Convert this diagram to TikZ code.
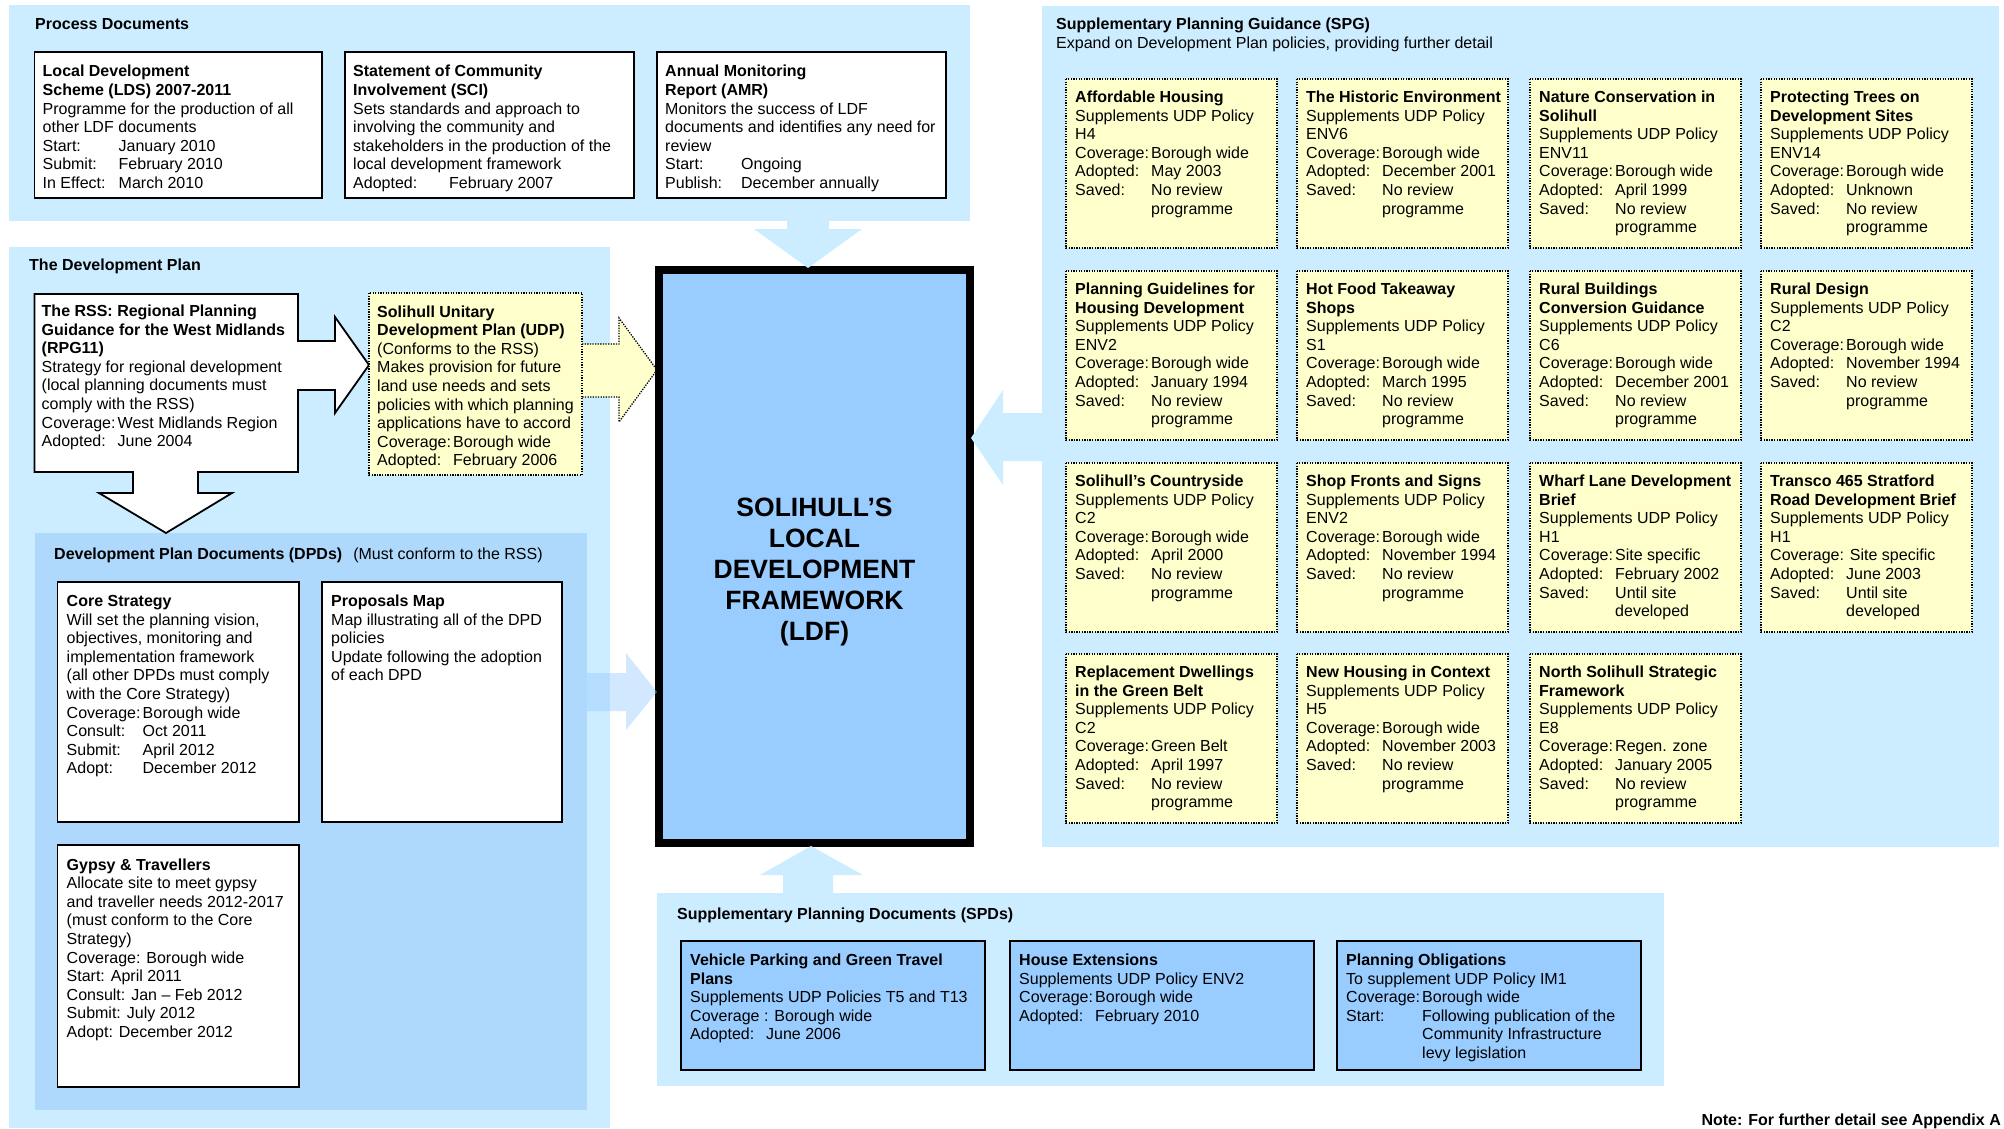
\documentclass[tikz,border=0pt]{standalone}
\usepackage{fontspec}
\setmainfont{Liberation Sans}
\usetikzlibrary{calc}
\definecolor{panel}{RGB}{204,236,255}
\definecolor{dpdpanel}{RGB}{175,217,252}
\definecolor{ldfblue}{RGB}{153,204,255}
\definecolor{ylw}{RGB}{255,255,204}
\newcommand\lbl[2][76pt]{\makebox[#1][l]{#2}}
\newcommand\indt{\hspace*{76pt}}
\newcommand\blk[1]{\begin{tabular}[t]{@{}l@{}}#1\end{tabular}}
\tikzset{
  txt/.style={anchor=base west, inner sep=0pt, font=\fontsize{16}{18.6}\selectfont},
  ttl/.style={anchor=base west, inner sep=0pt, font=\fontsize{16}{18.6}\selectfont\bfseries},
  wbox/.style={draw=black, line width=1.8pt, fill=white},
  ybox/.style={draw=black, line width=1.3pt, dash pattern=on 1.3pt off 1.3pt, fill=ylw},
  bbox/.style={draw=black, line width=1.8pt, fill=ldfblue},
  pnl/.style={fill=panel},
}
\newcommand\spgbox[4]{%
  \draw[ybox] (#2,#3) rectangle ++(211,169);
  \node[txt] (#1) at (#2+9,#3+23.5) {\blk{#4}};}
\begin{document}
\begin{tikzpicture}[x=1pt,y=-1pt]
\useasboundingbox (0,0) rectangle (2004,1129);
% ---------------- Process documents
\fill[pnl] (9,5) rectangle (970,221);
\node[ttl] (pdtitle) at (35,30) {Process Documents};
\draw[wbox] (34.5,52) rectangle (322,198);
\node[txt] (lds) at (42.5,77) {\blk{\textbf{Local Development}\\ \textbf{Scheme (LDS) 2007-2011}\\ Programme for the production of all\\ other LDF documents\\ \lbl{Start:}January 2010\\ \lbl{Submit:}February 2010\\ \lbl{In Effect:}March 2010}};
\draw[wbox] (345,52) rectangle (634,198);
\node[txt] (sci) at (353,77) {\blk{\textbf{Statement of Community}\\ \textbf{Involvement (SCI)}\\ Sets standards and approach to\\ involving the community and\\ stakeholders in the production of the\\ local development framework\\ \lbl[96pt]{Adopted:}February 2007}};
\draw[wbox] (657,52) rectangle (946,198);
\node[txt] (amr) at (665,77) {\blk{\textbf{Annual Monitoring}\\ \textbf{Report (AMR)}\\ Monitors the success of LDF\\ documents and identifies any need for\\ review\\ \lbl{Start:}Ongoing\\ \lbl{Publish:}December annually}};
% ---------------- Development plan
\fill[pnl] (9,247) rectangle (610,1128);
\node[ttl] (dptitle) at (29,270.5) {The Development Plan};
\fill[fill=dpdpanel] (34.5,533) rectangle (587,1110);
\node[txt] (dpdtitle) at (54,559.5) {\textbf{Development Plan Documents (DPDs)}\hspace{11pt}(Must conform to the RSS)};
% RSS shape
\draw[wbox, line join=miter] (34.5,294) -- (298,294) -- (298,341) -- (335,341) -- (335,317) -- (369,365) -- (335,413) -- (335,390) -- (298,390) -- (298,472) -- (198,472) -- (198,493) -- (232,493) -- (166,533) -- (99,493) -- (133,493) -- (133,472) -- (34.5,472) -- cycle;
\node[txt] (rss) at (41.5,316.5) {\blk{\textbf{The RSS: Regional Planning}\\ \textbf{Guidance for the West Midlands}\\ \textbf{(RPG11)}\\ Strategy for regional development\\ (local planning documents must\\ comply with the RSS)\\ \lbl{Coverage:}West Midlands Region\\ \lbl{Adopted:}June 2004}};
% UDP
\fill[ylw] (580,344) -- (619,344) -- (619,318) -- (657,370) -- (619,422) -- (619,397) -- (580,397) -- cycle;
\draw[black, line width=1.3pt, dash pattern=on 1.3pt off 1.3pt] (582,344) -- (619,344) -- (619,318) -- (657,370) -- (619,422) -- (619,397) -- (582,397);
\draw[ybox] (369,293) rectangle (582,475);
\node[txt] (udp) at (377,317) {\blk{\textbf{Solihull Unitary}\\ \textbf{Development Plan (UDP)}\\ (Conforms to the RSS)\\ Makes provision for future\\ land use needs and sets\\ policies with which planning\\ applications have to accord\\ \lbl{Coverage:}Borough wide\\ \lbl{Adopted:}February 2006}};
% DPD boxes
\draw[wbox] (57.5,582) rectangle (299,822);
\node[txt] (core) at (66.5,606.5) {\blk{\textbf{Core Strategy}\\ Will set the planning vision,\\ objectives, monitoring and\\ implementation framework\\ (all other DPDs must comply\\ with the Core Strategy)\\ \lbl{Coverage:}Borough wide\\ \lbl{Consult:}Oct 2011\\ \lbl{Submit:}April 2012\\ \lbl{Adopt:}December 2012}};
\draw[wbox] (322,582) rectangle (562,822);
\node[txt] (pmap) at (331,606.5) {\blk{\textbf{Proposals Map}\\ Map illustrating all of the DPD\\ policies\\ Update following the adoption\\ of each DPD}};
\draw[wbox] (57.5,845) rectangle (299,1087);
\node[txt] (gypsy) at (66.5,870) {\blk{\textbf{Gypsy \& Travellers}\\ Allocate site to meet gypsy\\ and traveller needs 2012-2017\\ (must conform to the Core\\ Strategy)\\ Coverage: Borough wide\\ Start: April 2011\\ Consult: Jan – Feb 2012\\ Submit: July 2012\\ Adopt: December 2012}};
% ---------------- SPG panel
\fill[pnl] (1042,6) rectangle (1999,847);
\node[ttl] (spgtitle) at (1056,30) {Supplementary Planning Guidance (SPG)};
\node[txt] (spgsub) at (1056,48.5) {Expand on Development Plan policies, providing further detail};
\spgbox{spga}{1066}{79}{\textbf{Affordable Housing}\\ Supplements UDP Policy\\ H4\\ \lbl{Coverage:}Borough wide\\ \lbl{Adopted:}May 2003\\ \lbl{Saved:}No review\\ \indt programme}
\spgbox{spgb}{1297}{79}{\textbf{The Historic Environment}\\ Supplements UDP Policy\\ ENV6\\ \lbl{Coverage:}Borough wide\\ \lbl{Adopted:}December 2001\\ \lbl{Saved:}No review\\ \indt programme}
\spgbox{spgc}{1530}{79}{\textbf{Nature Conservation in}\\ \textbf{Solihull}\\ Supplements UDP Policy\\ ENV11\\ \lbl{Coverage:}Borough wide\\ \lbl{Adopted:}April 1999\\ \lbl{Saved:}No review\\ \indt programme}
\spgbox{spgd}{1761}{79}{\textbf{Protecting Trees on}\\ \textbf{Development Sites}\\ Supplements UDP Policy\\ ENV14\\ \lbl{Coverage:}Borough wide\\ \lbl{Adopted:}Unknown\\ \lbl{Saved:}No review\\ \indt programme}
\spgbox{spge}{1066}{271}{\textbf{Planning Guidelines for}\\ \textbf{Housing Development}\\ Supplements UDP Policy\\ ENV2\\ \lbl{Coverage:}Borough wide\\ \lbl{Adopted:}January 1994\\ \lbl{Saved:}No review\\ \indt programme}
\spgbox{spgf}{1297}{271}{\textbf{Hot Food Takeaway}\\ \textbf{Shops}\\ Supplements UDP Policy\\ S1\\ \lbl{Coverage:}Borough wide\\ \lbl{Adopted:}March 1995\\ \lbl{Saved:}No review\\ \indt programme}
\spgbox{spgg}{1530}{271}{\textbf{Rural Buildings}\\ \textbf{Conversion Guidance}\\ Supplements UDP Policy\\ C6\\ \lbl{Coverage:}Borough wide\\ \lbl{Adopted:}December 2001\\ \lbl{Saved:}No review\\ \indt programme}
\spgbox{spgh}{1761}{271}{\textbf{Rural Design}\\ Supplements UDP Policy\\ C2\\ \lbl{Coverage:}Borough wide\\ \lbl{Adopted:}November 1994\\ \lbl{Saved:}No review\\ \indt programme}
\spgbox{spgi}{1066}{463}{\textbf{Solihull’s Countryside}\\ Supplements UDP Policy\\ C2\\ \lbl{Coverage:}Borough wide\\ \lbl{Adopted:}April 2000\\ \lbl{Saved:}No review\\ \indt programme}
\spgbox{spgj}{1297}{463}{\textbf{Shop Fronts and Signs}\\ Supplements UDP Policy\\ ENV2\\ \lbl{Coverage:}Borough wide\\ \lbl{Adopted:}November 1994\\ \lbl{Saved:}No review\\ \indt programme}
\spgbox{spgk}{1530}{463}{\textbf{Wharf Lane Development}\\ \textbf{Brief}\\ Supplements UDP Policy\\ H1\\ \lbl{Coverage:}Site specific\\ \lbl{Adopted:}February 2002\\ \lbl{Saved:}Until site\\ \indt developed}
\spgbox{spgl}{1761}{463}{\textbf{Transco 465 Stratford}\\ \textbf{Road Development Brief}\\ Supplements UDP Policy\\ H1\\ Coverage: Site specific\\ \lbl{Adopted:}June 2003\\ \lbl{Saved:}Until site\\ \indt developed}
\spgbox{spgm}{1066}{654}{\textbf{Replacement Dwellings}\\ \textbf{in the Green Belt}\\ Supplements UDP Policy\\ C2\\ \lbl{Coverage:}Green Belt\\ \lbl{Adopted:}April 1997\\ \lbl{Saved:}No review\\ \indt programme}
\spgbox{spgn}{1297}{654}{\textbf{New Housing in Context}\\ Supplements UDP Policy\\ H5\\ \lbl{Coverage:}Borough wide\\ \lbl{Adopted:}November 2003\\ \lbl{Saved:}No review\\ \indt programme}
\spgbox{spgo}{1530}{654}{\textbf{North Solihull Strategic}\\ \textbf{Framework}\\ Supplements UDP Policy\\ E8\\ \lbl{Coverage:}Regen. zone\\ \lbl{Adopted:}January 2005\\ \lbl{Saved:}No review\\ \indt programme}
% ---------------- SPD panel
\fill[pnl] (657,893) rectangle (1664,1086);
\node[ttl] (spdtitle) at (677,919) {Supplementary Planning Documents (SPDs)};
\draw[bbox] (681,941) rectangle (985,1070);
\node[txt] (spda) at (690,965.5) {\blk{\textbf{Vehicle Parking and Green Travel}\\ \textbf{Plans}\\ Supplements UDP Policies T5 and T13\\ Coverage : Borough wide\\ \lbl{Adopted:}June 2006}};
\draw[bbox] (1010,941) rectangle (1314,1070);
\node[txt] (spdb) at (1019,965.5) {\blk{\textbf{House Extensions}\\ Supplements UDP Policy ENV2\\ \lbl{Coverage:}Borough wide\\ \lbl{Adopted:}February 2010}};
\draw[bbox] (1337,941) rectangle (1641,1070);
\node[txt] (spdc) at (1346,965.5) {\blk{\textbf{Planning Obligations}\\ To supplement UDP Policy IM1\\ \lbl{Coverage:}Borough wide\\ \lbl{Start:}Following publication of the\\ \indt Community Infrastructure\\ \indt levy legislation}};
% ---------------- LDF
\draw[line width=8pt, fill=ldfblue] (659,270) rectangle (970,843);
\node[align=center, inner sep=0pt, font=\fontsize{26.5}{31}\selectfont\bfseries] (ldf) at (814.5,572) {SOLIHULL’S\\ LOCAL\\ DEVELOPMENT\\ FRAMEWORK\\ (LDF)};
% ---------------- block arrows into the LDF
\fill[pnl] (787,220) -- (829,220) -- (829,229) -- (862,229) -- (808,268) -- (754,229) -- (787,229) -- cycle;
\fill[pnl] (1043,413) -- (1003,413) -- (1003,390) -- (971,438) -- (1003,485) -- (1003,461) -- (1043,461) -- cycle;
\fill[pnl] (783,894) -- (783,875) -- (760,875) -- (811,846) -- (863,875) -- (833,875) -- (833,894) -- cycle;
\fill[ldfblue, opacity=0.45] (587,673) -- (626,673) -- (626,653) -- (657,692) -- (626,730) -- (626,711) -- (587,711) -- cycle;
% ---------------- note
\node[ttl, anchor=base east] (note) at (2001,1125) {Note: For further detail see Appendix A};
\end{tikzpicture}
\end{document}
